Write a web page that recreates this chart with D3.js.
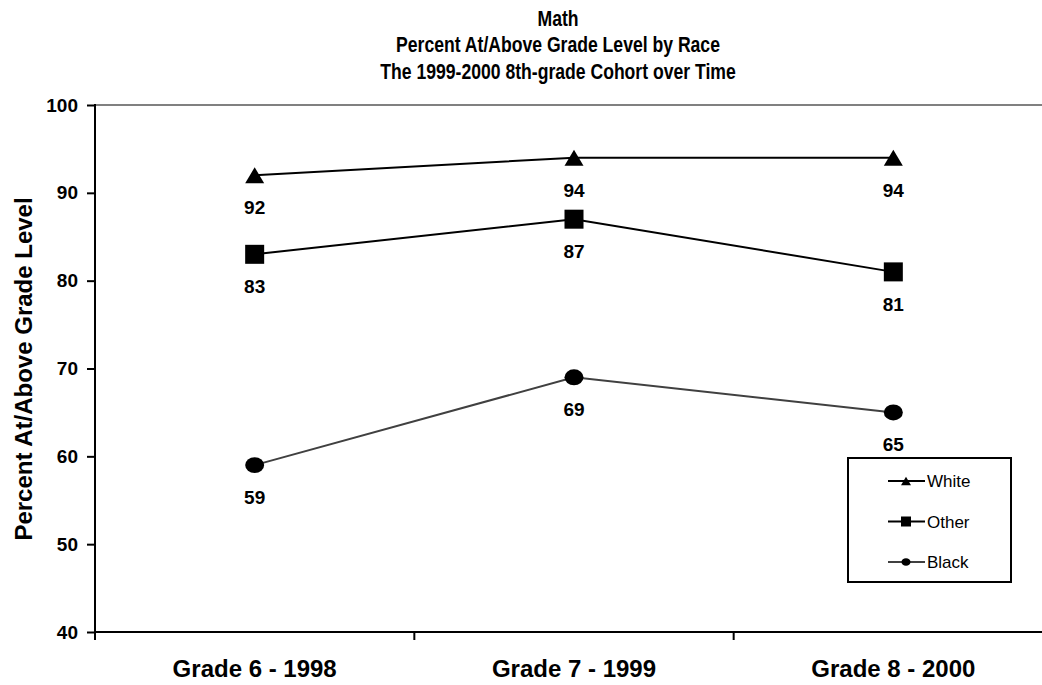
<!DOCTYPE html>
<html>
  <head>
    <script src="https://d3js.org/d3.v7.min.js"></script>
    <style>
body { margin: 0; background: #fff; }
svg { display: block; font-family: Arial, "Liberation Sans", sans-serif; }
    </style>
  </head>
  <body>
    <script>
var grades = ["Grade 6 - 1998", "Grade 7 - 1999", "Grade 8 - 2000"];
var white = [92, 94, 94];
var other = [83, 87, 81];
var black = [59, 69, 65];
var yTicks = [40, 50, 60, 70, 80, 90, 100];
var titleLines = ["Math", "Percent At/Above Grade Level by Race", "The 1999-2000 8th-grade Cohort over Time"];

var series = [
	{name: "White", values: white, marker: "triangle", color: "#000"},
	{name: "Other", values: other, marker: "square", color: "#000"},
	{name: "Black", values: black, marker: "circle", color: "#404040"}
];

var W = 1042, H = 685;
var plotLeft = 95, plotTop = 105, plotBottom = 632;

var svg = d3.select("body").append("svg").attr("width", W).attr("height", H);

var x = d3.scaleBand().domain(grades).range([plotLeft, 1053]);
var y = d3.scaleLinear().domain([40, 100]).range([plotBottom, plotTop]);
function cx(i) { return x(grades[i]) + x.bandwidth() / 2; }

// title (condensed bold, like the original)
svg.append("g").attr("transform", "translate(558,0) scale(0.8,1)")
	.selectAll("text").data(titleLines).enter().append("text")
	.attr("x", 0)
	.attr("y", function (d, i) { return 26 + i * 26.5; })
	.attr("text-anchor", "middle")
	.style("font-weight", "bold")
	.style("font-size", "22px")
	.text(function (d) { return d; });

// top border of plot area
svg.append("line").attr("x1", plotLeft).attr("x2", W).attr("y1", plotTop).attr("y2", plotTop)
	.style("stroke", "#808080").style("stroke-width", 2);

// y axis
var yAxis = svg.append("g").attr("transform", "translate(" + plotLeft + ",0)")
	.call(d3.axisLeft(y).tickValues(yTicks).tickSize(8).tickPadding(9));
yAxis.select(".domain").attr("d", "M0," + (plotTop - 1) + "V" + (plotBottom + 1)).style("stroke-width", 2);
yAxis.selectAll(".tick line").style("stroke-width", 2);
yAxis.selectAll(".tick text").style("font-size", "19px").style("font-weight", "bold").attr("fill", "#000");

// x axis
var xAxis = svg.append("g").attr("transform", "translate(0," + plotBottom + ")")
	.call(d3.axisBottom(x).tickSize(0).tickPadding(28));
xAxis.select(".domain").attr("d", "M" + (plotLeft - 1) + ",0H" + W).style("stroke-width", 2);
xAxis.selectAll(".tick text").style("font-size", "24px").style("font-weight", "bold").attr("fill", "#000");
xAxis.selectAll(".sep").data(grades).enter().append("line")
	.attr("class", "sep")
	.attr("x1", function (d) { return x(d); })
	.attr("x2", function (d) { return x(d); })
	.attr("y1", 0).attr("y2", 8)
	.style("stroke", "#000").style("stroke-width", 2);

// y title
svg.append("text")
	.attr("transform", "translate(32,369) rotate(-90)")
	.attr("text-anchor", "middle")
	.style("font-size", "24px")
	.style("font-weight", "bold")
	.text("Percent At/Above Grade Level");

function drawMarker(g, type, s) {
	if (type == "triangle") {
		g.append("path").attr("d", "M0," + (-s * 0.85) + "L" + s + "," + (s * 0.85) + "L" + (-s) + "," + (s * 0.85) + "Z");
	} else if (type == "square") {
		g.append("rect").attr("x", -s).attr("y", -s).attr("width", 2 * s).attr("height", 2 * s);
	} else {
		g.append("ellipse").attr("rx", s).attr("ry", s * 0.84);
	}
}

var line = d3.line().x(function (d, i) { return cx(i); }).y(function (d) { return y(d); });

series.forEach(function (s) {
	svg.append("path").attr("d", line(s.values))
		.style("fill", "none").style("stroke", s.color).style("stroke-width", 2);
	s.values.forEach(function (v, i) {
		var g = svg.append("g").attr("transform", "translate(" + cx(i) + "," + y(v) + ")").style("fill", "#000");
		drawMarker(g, s.marker, 9.5);
		svg.append("text")
			.attr("x", cx(i)).attr("y", y(v) + 39)
			.attr("text-anchor", "middle")
			.style("font-size", "19px").style("font-weight", "bold")
			.text(v);
	});
});

// legend
var lg = svg.append("g").attr("transform", "translate(848,458)");
lg.append("rect").attr("width", 163).attr("height", 124)
	.style("fill", "#fff").style("stroke", "#000").style("stroke-width", 2);
series.forEach(function (s, i) {
	var row = lg.append("g").attr("transform", "translate(0," + (23 + i * 40.5) + ")");
	row.append("line").attr("x1", 40).attr("x2", 77)
		.style("stroke", s.color).style("stroke-width", 2);
	var m = row.append("g").attr("transform", "translate(58,0)").style("fill", "#000");
	drawMarker(m, s.marker, s.marker == "circle" ? 4.5 : 5);
	row.append("text").attr("x", 79).attr("y", 6)
		.style("font-size", "17px")
		.text(s.name);
});
    </script>
  </body>
</html>
